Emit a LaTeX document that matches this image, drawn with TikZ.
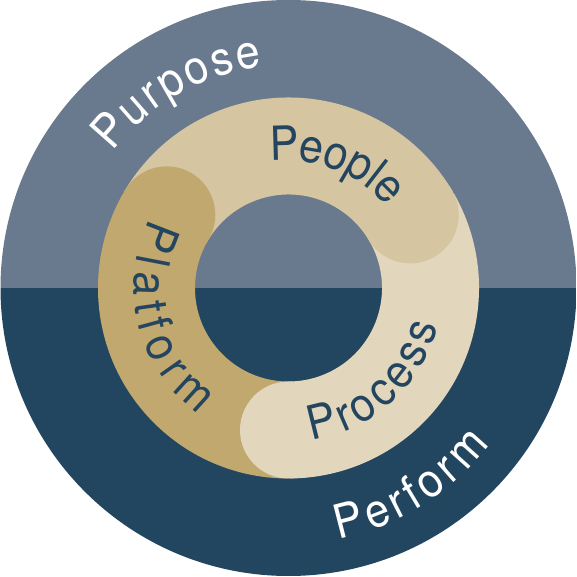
\documentclass[tikz,border=0pt]{standalone}
\usepackage{fontspec}
\usetikzlibrary{decorations.text}
\newfontfamily\labfont[FakeStretch=0.92]{TeX Gyre Heros}
\definecolor{slatetop}{RGB}{106,122,142}
\definecolor{navybot}{RGB}{35,70,96}
\definecolor{peoplec}{RGB}{213,197,161}
\definecolor{processc}{RGB}{226,215,188}
\definecolor{platformc}{RGB}{192,168,111}
\definecolor{navytext}{RGB}{35,69,95}
\tikzset{
  band/.style={line width=97pt},
  lab/.style={decorate, decoration={text along path, text align=fit to path, raise=#1}},
}
\begin{document}
\begin{tikzpicture}[x=1pt,y=1pt]
\useasboundingbox (0,0) rectangle (577,576);
\coordinate (c) at (288.5,288);
% outer disc split in two halves
\begin{scope}
  \clip (c) circle (288);
  \fill[slatetop] (0,288) rectangle (577,576);
  \fill[navybot] (0,0) rectangle (577,288);
\end{scope}
% ring bands (clockwise, each ending in a round cap)
\draw[band, peoplec] (c) ++(150:142) arc[start angle=150, end angle=30, radius=142];
\draw[band, processc] (c) ++(30:142) arc[start angle=30, end angle=-90, radius=142];
\draw[band, platformc] (c) ++(270:142) arc[start angle=270, end angle=150, radius=142];
% caps
\fill[peoplec] (c) ++(31:142) circle (48.5);
\fill[processc] (c) ++(-90:142) circle (48.5);
\fill[platformc] (c) ++(149:142) circle (48.5);
% labels on the ring
\path[lab=-14.5pt, decoration={text={|\labfont\fontsize{47}{50}\selectfont\color{navytext}|People}}]
  (c) ++(97.5:142) arc[start angle=97.5, end angle=40, radius=142];
\path[lab=-12pt, decoration={text={|\labfont\fontsize{47}{50}\selectfont\color{navytext}|Process}}]
  (c) ++(-82:142) arc[start angle=-82, end angle=-14, radius=142];
\path[lab=-12.5pt, decoration={text={|\labfont\fontsize{47}{50}\selectfont\color{navytext}|Platform}}]
  (c) ++(153:142) arc[start angle=153, end angle=235, radius=142];
% labels on the outer band
\path[lab=-16.5pt, decoration={text={|\labfont\fontsize{47}{50}\selectfont\color{white}|Purpose}}]
  (c) ++(142:239) arc[start angle=142, end angle=97, radius=239];
\path[lab=-16.5pt, decoration={text={|\labfont\fontsize{47}{50}\selectfont\color{white}|Perform}}]
  (c) ++(-79:239) arc[start angle=-79, end angle=-37.5, radius=239];
\end{tikzpicture}
\end{document}
